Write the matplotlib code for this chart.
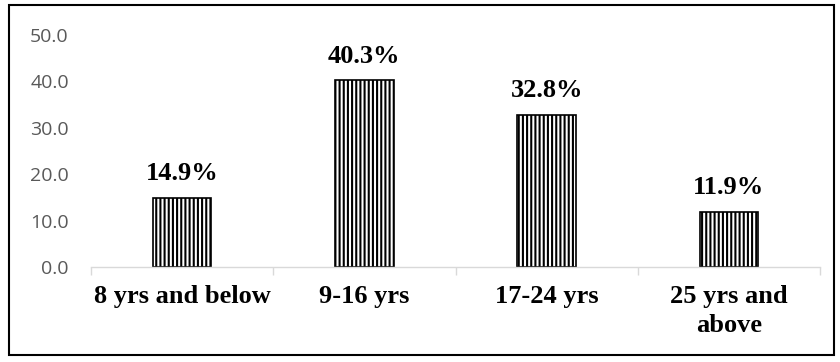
import matplotlib
matplotlib.use("Agg")
import matplotlib.pyplot as plt
from matplotlib.patches import Rectangle
import numpy as np

categories = ["8 yrs and below", "9-16 yrs", "17-24 yrs", "25 yrs and\nabove"]
values = [14.9, 40.3, 32.8, 11.9]
yticks = [0.0, 10.0, 20.0, 30.0, 40.0, 50.0]

plt.rcParams["hatch.linewidth"] = 1.5

fig = plt.figure(figsize=(8.4, 3.62), dpi=100)
ax = fig.add_axes([91 / 840, 1 - 267 / 362, (820 - 91) / 840, (267 - 35) / 362])

x = np.arange(len(categories))
ax.bar(x, values, width=0.32, color="white", edgecolor="black",
       linewidth=1.2, hatch="||||")

for xi, v in zip(x, values):
    ax.annotate(f"{v:.1f}%", (xi, v), xytext=(0, 9), textcoords="offset points",
                ha="center", va="bottom", family="Liberation Serif",
                fontweight="bold", fontsize=19)

ax.set_xlim(-0.5, len(categories) - 0.5)
ax.set_ylim(0, 50)
ax.set_yticks(yticks)
ax.set_yticklabels([f"{t:.1f}" for t in yticks], color="#595959",
                   family="Open Sans", fontsize=14)
ax.tick_params(axis="y", length=0, pad=16)

# category boundaries carry the tick marks, labels sit between them
ax.set_xticks(np.arange(len(categories) + 1) - 0.5)
ax.set_xticklabels([])
ax.set_xticks(x, minor=True)
ax.set_xticklabels(categories, minor=True, family="Liberation Serif",
                   fontweight="bold", fontsize=19, linespacing=1.35)
ax.tick_params(axis="x", which="major", length=6, color="#d9d9d9", width=1)
ax.tick_params(axis="x", which="minor", length=0, pad=13)

for side in ("top", "right", "left"):
    ax.spines[side].set_visible(False)
ax.spines["bottom"].set_color("#d9d9d9")
ax.spines["bottom"].set_linewidth(1)

fig.patches.append(Rectangle((9 / 840, 1 - 355 / 362), 825 / 840, 350 / 362,
                             transform=fig.transFigure, fill=False,
                             edgecolor="black", linewidth=1.5))

fig.savefig("out.png", dpi=100)
